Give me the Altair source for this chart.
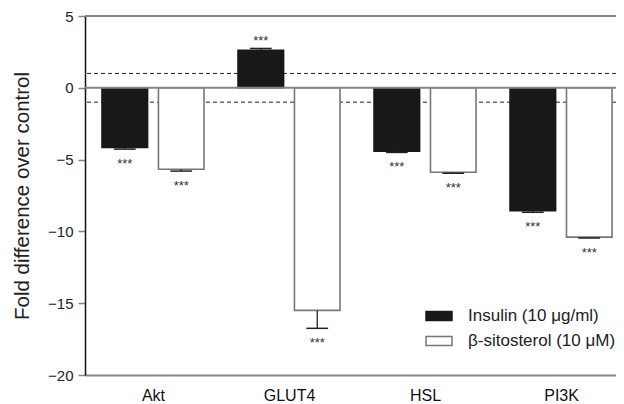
import altair as alt
import pandas as pd

categories = ["Akt", "GLUT4", "HSL", "PI3K"]
series = ["Insulin (10 μg/ml)", "β-sitosterol (10 μM)"]
insulin = [-4.15, 2.62, -4.42, -8.55]
insulin_err = [0.12, 0.12, 0.08, 0.12]
sitosterol = [-5.67, -15.5, -5.88, -10.4]
sitosterol_err = [0.13, 1.25, 0.07, 0.06]
y_ticks = [5, 0, -5, -10, -15, -20]
solid_lines = [5, 0]
dashed_lines = [1, -1]
stars = ["***", "***", "***", "***"]

rows = []
for i, c in enumerate(categories):
    rows.append(dict(cat=c, idx=i, series=series[0], side=-1, value=insulin[i], err=insulin_err[i], star=stars[i]))
    rows.append(dict(cat=c, idx=i, series=series[1], side=1, value=sitosterol[i], err=sitosterol_err[i], star=stars[i]))
df = pd.DataFrame(rows)

FONT = "Liberation Sans"
GRAY = "#858585"
xscale = alt.Scale(domain=[-0.5, 3.404], nice=False, zero=False)
yscale = alt.Scale(domain=[-20, 5], nice=False)

label_expr = "[" + ",".join("'" + c + "'" for c in categories) + "][datum.value]"

XAXIS = alt.Axis(
    values=[0, 1, 2, 3], labelExpr=label_expr, title=None, grid=False, ticks=False,
    domainColor=GRAY, domainWidth=2, labelFontSize=16, labelPadding=12,
    labelColor="#111", labelFont=FONT)
YAXIS = alt.Axis(
    values=y_ticks, title="Fold difference over control", grid=False,
    domainColor="#111", domainWidth=1.5, tickColor=GRAY, tickSize=7, tickWidth=1.5,
    labelFontSize=15, labelPadding=5, labelColor="#222", labelFont=FONT,
    titleFontSize=20.5, titleFontWeight="normal", titleColor="#222", titleFont=FONT,
    titlePadding=15)

base = alt.Chart(df).transform_calculate(
    x_in="datum.idx + datum.side * 0.04",
    x_out="datum.idx + datum.side * 0.375",
    xc="datum.idx + datum.side * 0.2075",
    cap_l="datum.idx + datum.side * 0.2075 - 0.08",
    cap_r="datum.idx + datum.side * 0.2075 + 0.08",
    end="datum.value < 0 ? datum.value - datum.err : datum.value + datum.err",
)

lines_df = pd.DataFrame({"y": solid_lines})
dash_df = pd.DataFrame({"y": dashed_lines})

dashed = alt.Chart(dash_df).mark_rule(color="#222", strokeWidth=1, strokeDash=[4, 3]).encode(
    y=alt.Y("y:Q", scale=yscale, axis=YAXIS)
)

LEG = alt.Legend(title=None, orient="none", legendX=340, legendY=286,
                 symbolType="M-1,-0.35H1V0.35H-1Z", symbolSize=676,
                 symbolStrokeWidth=1.5, labelFontSize=17, labelFont=FONT,
                 labelColor="#222", labelOffset=15, rowPadding=3, padding=0)

bars = base.mark_bar(strokeWidth=1.6).encode(
    x=alt.X("x_out:Q", scale=xscale, axis=XAXIS),
    x2="x_in:Q",
    y=alt.Y("value:Q", scale=yscale, axis=YAXIS),
    y2=alt.datum(0),
    fill=alt.Fill("series:N", scale=alt.Scale(domain=series, range=["#181818", "white"]), legend=LEG),
    stroke=alt.Stroke("series:N", scale=alt.Scale(domain=series, range=["#181818", "#777"]), legend=LEG),
)

solid = alt.Chart(lines_df).mark_rule(color=GRAY, strokeWidth=2).encode(
    y=alt.Y("y:Q", scale=yscale, axis=YAXIS)
)

err_line = base.mark_rule(color="#222", strokeWidth=1.3).encode(
    x=alt.X("xc:Q", scale=xscale, axis=XAXIS),
    y=alt.Y("value:Q", scale=yscale, axis=YAXIS),
    y2="end:Q",
)
err_cap = base.mark_rule(color="#222", strokeWidth=1.5).encode(
    x=alt.X("cap_l:Q", scale=xscale, axis=XAXIS),
    x2="cap_r:Q",
    y=alt.Y("end:Q", scale=yscale, axis=YAXIS),
)

stars_neg = base.transform_filter("datum.value < 0").mark_text(
    fontSize=13, font=FONT, color="#333", baseline="top", dy=9
).encode(
    x=alt.X("xc:Q", scale=xscale, axis=XAXIS),
    y=alt.Y("end:Q", scale=yscale, axis=YAXIS),
    text="star:N",
)
stars_pos = base.transform_filter("datum.value >= 0").mark_text(
    fontSize=13, font=FONT, color="#333", baseline="bottom", dy=0
).encode(
    x=alt.X("xc:Q", scale=xscale, axis=XAXIS),
    y=alt.Y("end:Q", scale=yscale, axis=YAXIS),
    text="star:N",
)

chart = alt.layer(dashed, bars, solid, err_line, err_cap, stars_neg, stars_pos).properties(
    width=531, height=359,
    autosize=alt.AutoSizeParams(type="none"),
    padding={"left": 77, "top": 8, "right": 0, "bottom": 30},
).configure_view(stroke=None).configure(font=FONT)

chart.save("out.html", embed_options={"renderer": "svg", "actions": False})
